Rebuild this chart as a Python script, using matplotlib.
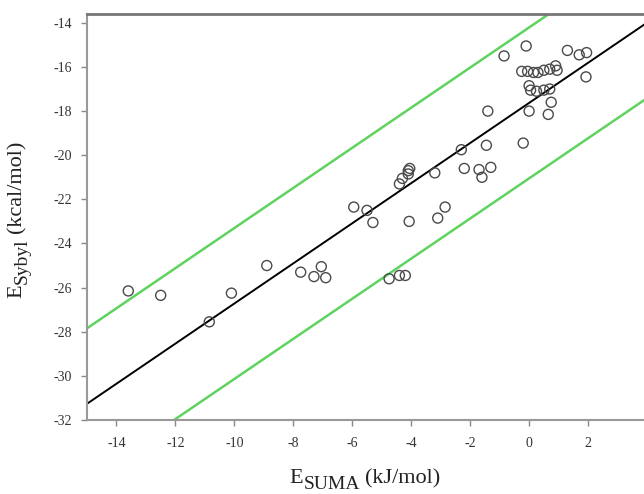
import numpy as np
import matplotlib
matplotlib.use("Agg")
import matplotlib.pyplot as plt

# E_SUMA (kJ/mol) vs E_Sybyl (kcal/mol)
e_suma = [
    -13.6, -12.5, -10.85, -10.1, -8.9, -7.75, -7.3, -7.05, -6.9,
    -5.95, -5.5, -5.3, -4.75, -4.4, -4.2,
    -4.4, -4.3, -4.1, -4.05, -4.1, -4.07, -3.2, -3.1, -2.85,
    -2.3, -2.2, -1.7, -1.6, -1.3, -1.45, -1.4,
    -0.85, -0.1, 1.3, 1.7, 1.95, 1.93,
    -0.25, -0.05, 0.15, 0.3, 0.5, 0.7, 0.9, 0.95,
    0.0, 0.05, 0.25, 0.5, 0.7, 0.75, 0.65, 0.0, -0.2,
]
e_sybyl = [
    -26.15, -26.35, -27.55, -26.25, -25.0, -25.3, -25.5, -25.05, -25.55,
    -22.35, -22.5, -23.05, -25.6, -25.45, -25.45,
    -21.3, -21.05, -20.85, -20.6, -20.7, -23.0, -20.8, -22.85, -22.35,
    -19.75, -20.6, -20.65, -21.0, -20.55, -19.55, -18.0,
    -15.5, -15.05, -15.25, -15.45, -15.35, -16.45,
    -16.2, -16.2, -16.25, -16.25, -16.15, -16.1, -15.95, -16.15,
    -16.85, -17.05, -17.1, -17.05, -17.0, -17.6, -18.15, -18.0, -19.45,
]

# fitted line and band offset
slope = 0.909
intercept = -17.63
band = 3.42

plt.rcParams["font.family"] = ["Liberation Serif", "DejaVu Serif"]
plt.rcParams["axes.unicode_minus"] = False

W, H = 644, 494
fig = plt.figure(figsize=(W / 100, H / 100), dpi=100)
ax = fig.add_axes([87 / W, 74 / H, 560 / W, 406 / H])

xlim = (-15, 4)
ylim = (-32, -13.6)
xs = np.array(xlim)
ax.plot(xs, slope * xs + intercept, color="black", lw=1.4, zorder=2)
ax.plot(xs, slope * xs + intercept + band, color="#5fd35f", lw=1.8, zorder=2)
ax.plot(xs, slope * xs + intercept - band, color="#5fd35f", lw=1.8, zorder=2)
ax.scatter(e_suma, e_sybyl, s=52, facecolors="none", edgecolors="#4a4a4a",
           linewidths=1.0, zorder=3)

ax.set_xlim(*xlim)
ax.set_ylim(*ylim)
ax.set_xticks(np.arange(-14, 5, 2))
ax.set_yticks(np.arange(-32, -13, 2))
ax.tick_params(direction="out", length=4, width=1, colors="#888888",
               labelcolor="#333333", labelsize=10)
ax.tick_params(axis="y", pad=7)
ax.tick_params(axis="x", pad=8)

for side in ("left", "bottom"):
    ax.spines[side].set_color("#999999")
    ax.spines[side].set_linewidth(1.5)
ax.spines["top"].set_color("#777777")
ax.spines["top"].set_linewidth(2)
ax.spines["right"].set_visible(False)


def sub_label(x, y, base, sub, rest, size=16, sub_size=14, drop=3.5, vertical=False):
    """Axis title with a near full-size, lowered subscript."""
    kw = dict(color="#222222", textcoords="offset points", annotation_clip=False)
    if not vertical:
        t = fig.text(x / W, 1 - y / H, base, fontsize=size, color="#222222",
                     ha="left", va="baseline")
        s = ax.annotate(sub, xy=(1, 0), xycoords=t, xytext=(0.5, -drop),
                        fontsize=sub_size, ha="left", va="bottom", **kw)
        ax.annotate(rest, xy=(1, 0), xycoords=s, xytext=(4, drop),
                    fontsize=size, ha="left", va="bottom", **kw)
    else:
        t = fig.text(x / W, 1 - y / H, base, fontsize=size, color="#222222",
                     rotation=90, ha="left", va="bottom")
        s = ax.annotate(sub, xy=(1, 1), xycoords=t, xytext=(drop, 0.5),
                        fontsize=sub_size, rotation=90, ha="right", va="bottom", **kw)
        ax.annotate(rest, xy=(1, 1), xycoords=s, xytext=(-drop, 4),
                    fontsize=size, rotation=90, ha="right", va="bottom", **kw)


sub_label(289, 483, "E", "SUMA", "(kJ/mol)")
sub_label(7, 298, "E", "Sybyl", "(kcal/mol)", vertical=True)

fig.savefig("out.png", dpi=100)
